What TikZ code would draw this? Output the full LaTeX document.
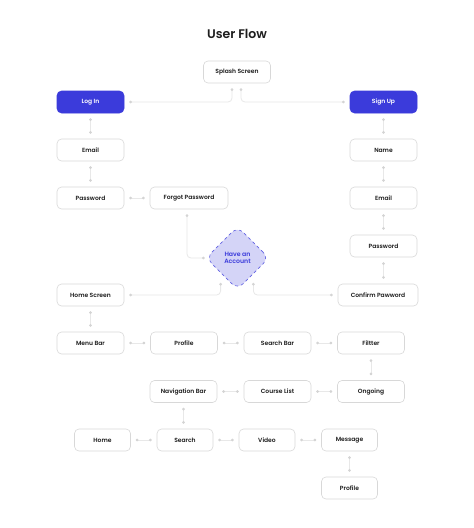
\documentclass[tikz,border=0pt]{standalone}
\usepackage{fontspec}
\setmainfont{Poppins}
\newfontfamily\semib{Poppins SemiBold}
\usetikzlibrary{shapes.geometric,arrows.meta}
\definecolor{brand}{HTML}{3B3BDB}
\definecolor{lav}{HTML}{D4D4F7}
\definecolor{boxgray}{HTML}{D8D8D8}
\definecolor{conngray}{HTML}{E8E8E8}
\definecolor{dotgray}{HTML}{D4D4D4}
\definecolor{ink}{HTML}{1E1E1E}
\begin{document}
\begin{tikzpicture}[x=1pt,y=-1pt,
 box/.style={draw=boxgray,fill=white,rounded corners=4.5pt,line width=0.6pt,minimum width=67pt,minimum height=22pt,inner sep=0pt,text=ink,font=\semib\fontsize{6}{7}\selectfont},
 primary/.style={box,draw=brand,fill=brand,text=white},
 decision/.style={diamond,aspect=1,draw=brand!80,dashed,line width=0.6pt,fill=lav,rounded corners=8pt,minimum width=63pt,minimum height=63pt,inner sep=0pt,align=center,text=brand,font=\semib\fontsize{6.2}{6.8}\selectfont},
 conn/.style={draw=conngray,line width=0.8pt,{Circle[length=2.6pt,color=dotgray]}-{Circle[length=2.6pt,color=dotgray]},shorten <=5pt,shorten >=5pt}
]
\useasboundingbox[fill=white] (0,0) rectangle (474,528);
\node[font=\semib\fontsize{12.5}{14}\selectfont,text=ink] (title) at (237,34) {User Flow};
\node[box] (splash) at (237,72) {Splash Screen};
\node[primary] (login) at (90.5,102) {Log In};
\node[primary] (signup) at (383.5,102) {Sign Up};
\node[box] (email1) at (90.5,150) {Email};
\node[box] (name) at (383.5,150) {Name};
\node[box] (pass1) at (90.5,198) {Password};
\node[box,minimum width=78pt] (forgot) at (189,198) {Forgot Password};
\node[box] (email2) at (383.5,198) {Email};
\node[box] (pass2) at (383.5,246) {Password};
\node[decision] (account) at (237.5,258) {Have an\\Account};
\node[box] (homescreen) at (90.5,295) {Home Screen};
\node[box,minimum width=80pt] (confirm) at (378,295) {Confirm Pawword};
\node[box] (menubar) at (90.5,343) {Menu Bar};
\node[box] (profile1) at (184,343) {Profile};
\node[box] (searchbar) at (277.5,343) {Search Bar};
\node[box] (filter) at (371,343) {Filtter};
\node[box] (navbar) at (183.5,391.5) {Navigation Bar};
\node[box] (courses) at (277.5,391.5) {Course List};
\node[box] (ongoing) at (371,391.5) {Ongoing};
\node[box,minimum width=56pt] (home) at (102.5,440) {Home};
\node[box,minimum width=56pt] (search) at (185,440) {Search};
\node[box,minimum width=56pt] (video) at (267,440) {Video};
\node[box,minimum width=56pt] (message) at (349.5,440) {Message};
\node[box,minimum width=56pt] (profile2) at (349.5,488) {Profile};
% connectors
\draw[conn,rounded corners=4pt] ([xshift=-5pt]splash.south) |- (login.east);
\draw[conn,rounded corners=4pt] ([xshift=4pt]splash.south) |- (signup.west);
\draw[conn] (login) -- (email1);
\draw[conn] (email1) -- (pass1);
\draw[conn] (pass1) -- (forgot);
\draw[conn] (signup) -- (name);
\draw[conn] (name) -- (email2);
\draw[conn] (email2) -- (pass2);
\draw[conn] (pass2.south) -- (pass2.south |- confirm.north);
\draw[conn,rounded corners=4pt,shorten >=1pt] ([xshift=-2pt]forgot.south) |- (account.west);
\draw[conn,rounded corners=4pt] ([xshift=-1pt,yshift=-4pt]account.south west) |- (homescreen.east);
\draw[conn,rounded corners=4pt] ([yshift=-4pt]account.south east) |- (confirm.west);
\draw[conn] (homescreen) -- (menubar);
\draw[conn] (menubar) -- (profile1);
\draw[conn] (profile1) -- (searchbar);
\draw[conn] (searchbar) -- (filter);
\draw[conn] (filter) -- (ongoing);
\draw[conn] (ongoing) -- (courses);
\draw[conn] (courses) -- (navbar);
\draw[conn] (navbar.south) -- (navbar.south |- search.north);
\draw[conn] (home) -- (search);
\draw[conn] (search) -- (video);
\draw[conn] (video) -- (message);
\draw[conn] (message) -- (profile2);
\end{tikzpicture}
\end{document}
